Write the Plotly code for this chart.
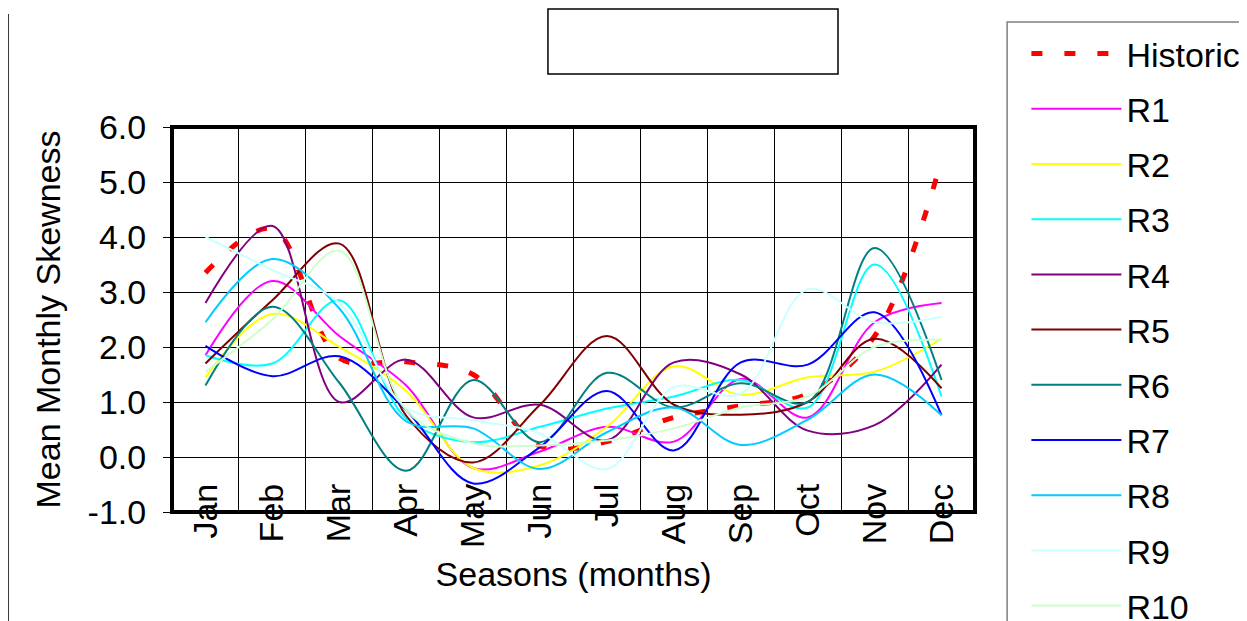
import plotly.graph_objects as go

months = ['Jan', 'Feb', 'Mar', 'Apr', 'May', 'Jun', 'Jul', 'Aug', 'Sep', 'Oct', 'Nov', 'Dec']
y_ticks = [-1, 0, 1, 2, 3, 4, 5, 6]
y_labels = ['-1.0', '0.0', '1.0', '2.0', '3.0', '4.0', '5.0', '6.0']

historic = [3.35, 4.15, 1.8, 1.73, 1.5, 0.2, 0.28, 0.72, 0.93, 1.15, 2.2, 5.4]
r1 = [1.85, 3.2, 2.2, 1.3, -0.2, 0.1, 0.55, 0.28, 1.42, 0.72, 2.45, 2.8]
r2 = [1.45, 2.6, 2.0, 1.2, -0.2, -0.15, 0.55, 1.65, 1.13, 1.45, 1.55, 2.15]
r3 = [1.85, 1.7, 2.85, 0.7, 0.27, 0.55, 0.88, 1.1, 1.4, 0.9, 3.5, 1.1]
r4 = [2.8, 4.2, 1.0, 1.77, 0.72, 0.95, 0.3, 1.72, 1.5, 0.48, 0.58, 1.68]
r5 = [1.7, 2.85, 3.88, 0.75, -0.1, 0.95, 2.2, 0.95, 0.77, 1.0, 2.15, 1.25]
r6 = [1.3, 2.73, 1.35, -0.25, 1.4, 0.27, 1.53, 0.9, 1.34, 1.0, 3.8, 1.4]
r7 = [2.02, 1.47, 1.83, 0.85, -0.48, 0.18, 1.2, 0.12, 1.72, 1.68, 2.63, 0.76]
r8 = [2.45, 3.6, 2.7, 0.65, 0.52, -0.22, 0.45, 0.9, 0.22, 0.68, 1.5, 0.76]
r9 = [4.0, 3.4, 2.8, 0.9, 0.67, 0.43, -0.22, 1.27, 1.15, 3.05, 2.45, 2.55]
r10 = [1.55, 2.5, 3.75, 0.85, 0.25, 0.21, 0.3, 0.52, 0.9, 1.1, 2.0, 2.13]

names = ['R1', 'R2', 'R3', 'R4', 'R5', 'R6', 'R7', 'R8', 'R9', 'R10']
runs = [r1, r2, r3, r4, r5, r6, r7, r8, r9, r10]
colors = ['#ff00ff', '#ffff00', '#00ffff', '#800080', '#800000',
          '#008080', '#0000ff', '#00ccff', '#ccffff', '#ccffcc']

font = 'Liberation Sans, Arial, sans-serif'

fig = go.Figure()

fig.add_scatter(x=months, y=historic, name='Historic', mode='lines',
                line=dict(color='#ff0000', width=5, dash='11px,22px', shape='spline'),
                legendgroup='h')

for name, vals, col in zip(names, runs, colors):
    fig.add_scatter(x=months, y=vals, name=name, mode='lines',
                    line=dict(color=col, width=2, shape='spline'),
                    legendgroup=name)

fig.update_xaxes(type='category', tickson='boundaries', tickangle=-90,
                 range=[-0.5, 11.5],
                 showgrid=True, gridcolor='#000000', gridwidth=1,
                 ticks='', ticklabelstandoff=-36,
                 tickfont=dict(family=font, size=34, color='black'),
                 title=dict(text='Seasons (months)', standoff=15,
                            font=dict(family=font, size=34, color='black')),
                 automargin=False, showline=False, zeroline=False)

fig.update_yaxes(range=[-1, 6], tickvals=y_ticks, ticktext=y_labels,
                 showgrid=True, gridcolor='#000000', gridwidth=1,
                 ticks='outside', ticklen=8, tickcolor='black',
                 ticklabelstandoff=10,
                 tickfont=dict(family=font, size=34, color='black'),
                 title=dict(text='Mean Monthly Skewness', standoff=16,
                            font=dict(family=font, size=34, color='black')),
                 automargin=False, showline=False, zeroline=False)

# plot frame, legend box, title box and chart-area edges
fig.add_shape(type='rect', xref='paper', yref='paper', x0=0, x1=1, y0=0, y1=1,
              line=dict(color='black', width=4))
fig.add_shape(type='rect', xref='paper', yref='paper', x0=1.04, x1=1.4, y0=-0.4, y1=1.2727,
              line=dict(color='#808080', width=1.5), fillcolor='rgba(0,0,0,0)', layer='below')
fig.add_shape(type='rect', xref='paper', yref='paper', x0=0.4682, x1=0.8294, y0=1.1377, y1=1.3065,
              line=dict(color='black', width=1.5))
fig.add_shape(type='line', xref='paper', yref='paper', x0=-0.2042, x1=-0.2042, y0=-0.3, y1=1.2935,
              line=dict(color='black', width=1.5))
fig.add_shape(type='line', xref='paper', yref='paper', x0=1.3362, x1=1.3362, y0=-0.3, y1=1.2935,
              line=dict(color='black', width=1.5))

# the page body adds an 8px offset, so the figure is 8px smaller on the top/left
fig.update_layout(width=1239, height=613,
                  margin=dict(l=164, r=272, t=119, b=109, autoexpand=False),
                  paper_bgcolor='white', plot_bgcolor='white',
                  font=dict(family=font, size=34, color='black'),
                  showlegend=True,
                  legend=dict(x=1.064, y=1.265, xanchor='left', yanchor='top',
                              bgcolor='rgba(0,0,0,0)', borderwidth=0,
                              traceorder='grouped', tracegroupgap=8,
                              itemwidth=90, maxheight=1000,
                              font=dict(family=font, size=34, color='black')))

fig.write_html('out.html')
